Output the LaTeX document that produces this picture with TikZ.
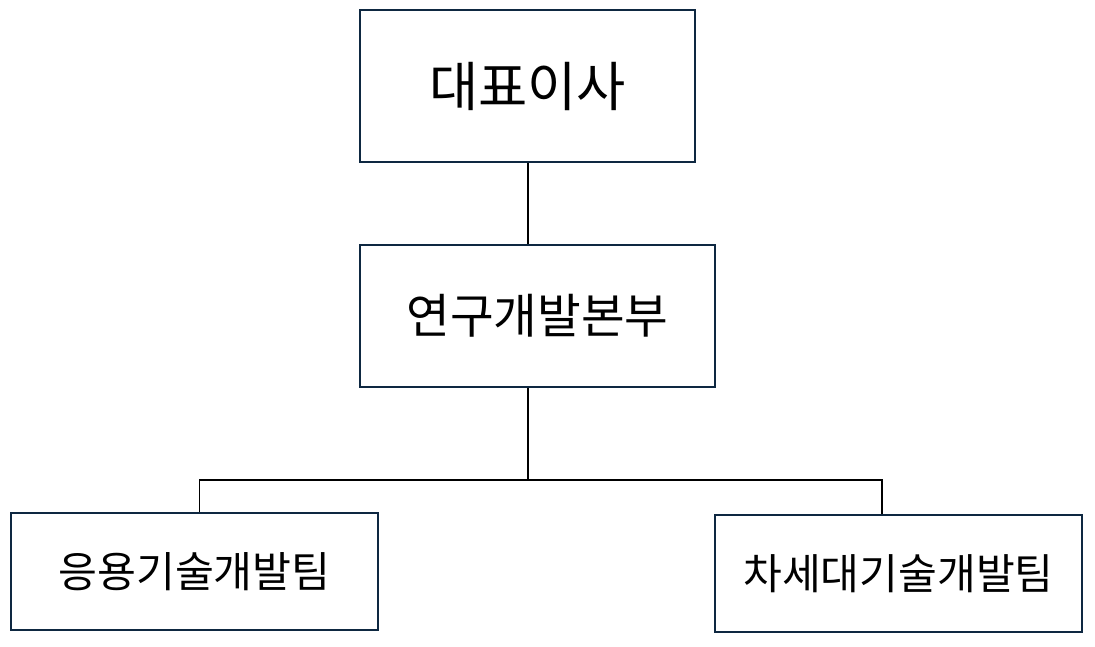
\documentclass[tikz,border=0pt]{standalone}
\usepackage{fontspec}
\newfontfamily\kr{Noto Sans CJK KR}
\definecolor{boxline}{HTML}{0E2841}
\begin{document}
\begin{tikzpicture}[x=1pt,y=-1pt,
  orgbox/.style={draw=boxline,line width=1.8pt,fill=white,inner sep=0pt,font=\kr},
  conn/.style={draw=black,line width=1.8pt}]
\useasboundingbox (0,0) rectangle (1095,646);
\node[orgbox,minimum width=335pt,minimum height=152pt,font=\kr\fontsize{53.5}{60}\selectfont] (ceo) at (527.5,86) {대표이사};
\node[orgbox,minimum width=355pt,minimum height=142pt,font=\kr\fontsize{47.5}{54}\selectfont] (rd) at (537.5,316) {연구개발본부};
\node[orgbox,minimum width=367pt,minimum height=117pt,font=\kr\fontsize{42.3}{48}\selectfont] (app) at (194.5,571.5) {응용기술개발팀};
\node[orgbox,minimum width=367pt,minimum height=117pt,font=\kr\fontsize{42.2}{48}\selectfont] (next) at (898.5,573.5) {차세대기술개발팀};
\coordinate (busM) at (528,480);
\coordinate (busL) at (199.5,480);
\coordinate (busR) at (882,480);
\draw[conn] (ceo.south -| busM) -- (busM |- rd.north);
\draw[conn] (busM |- rd.south) -- (busM);
\draw[conn] (busL |- app.north) -- (busL) -- (busR) -- (busR |- next.north);
\end{tikzpicture}
\end{document}
